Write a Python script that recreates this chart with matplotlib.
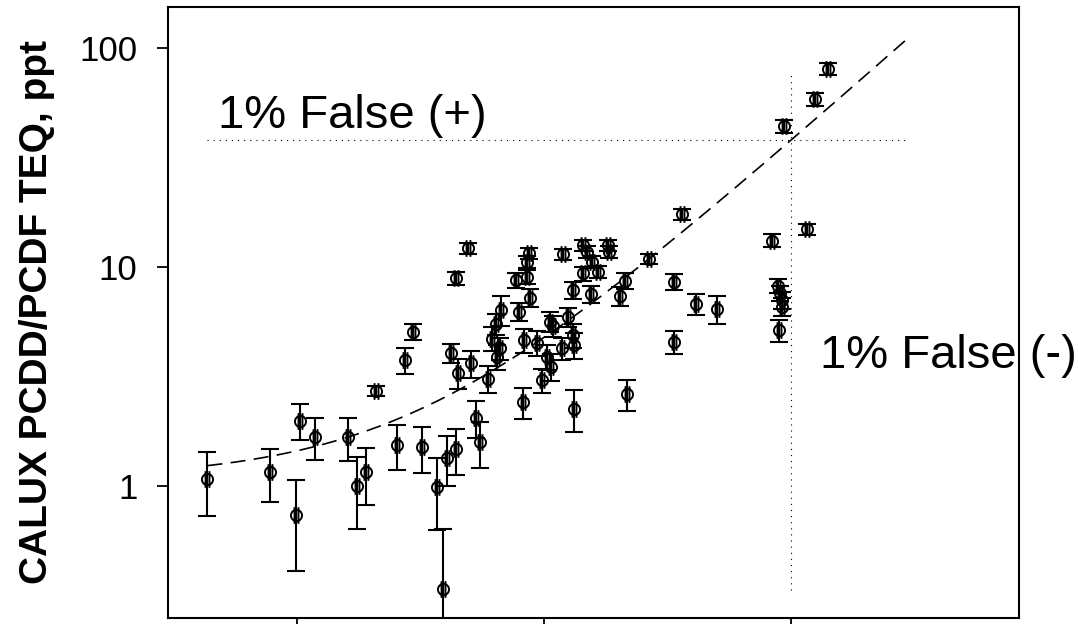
import numpy as np
import matplotlib.pyplot as plt
from matplotlib.path import Path
from matplotlib.ticker import FixedLocator, NullLocator, NullFormatter

plt.rcParams['font.family'] = ['Liberation Sans', 'DejaVu Sans']

# HRGC/HRMS TEQ (x), CALUX TEQ (y) and the CALUX standard deviation
hrms_teq = [0.0435, 0.0782, 0.099, 0.1035, 0.119, 0.161, 0.175, 0.190, 0.255, 0.320,
            0.368, 0.389, 0.404, 0.440, 0.531, 0.551, 0.820, 1.32, 2.18, 0.979,
            0.491, 0.443, 0.296, 0.274, 0.210, 0.420, 0.450, 0.505,
            0.869, 0.851, 0.855, 0.768, 0.878, 0.794, 0.668, 0.639, 0.614, 0.663,
            0.647, 0.595, 0.832, 0.939, 1.057, 1.085, 1.026, 1.067, 1.18, 1.254,
            1.315, 1.32, 1.306, 1.19, 1.44, 1.49, 1.56, 1.44, 1.66, 1.82,
            1.84, 1.55, 2.13, 2.03,
            3.64, 2.67, 3.36, 4.12, 5.03, 3.36, 8.35,
            8.88, 9.03, 9.17, 9.17, 8.95, 11.6,
            9.37, 12.5, 14.1]
calux_teq = [1.08, 1.16, 0.74, 1.99, 1.68, 1.67, 1.00, 1.16, 1.54, 1.51,
             0.99, 0.34, 1.35, 1.48, 2.05, 1.59, 2.42, 2.26, 2.63, 3.05,
             12.17, 8.88, 5.07, 3.76, 2.72, 4.06, 3.29, 3.63,
             11.55, 10.57, 9.03, 8.72, 7.24, 6.25, 6.36, 5.49, 4.72, 4.25,
             3.89, 3.10, 4.64, 4.51, 5.63, 5.38, 3.89, 3.51, 4.25, 5.93,
             4.89, 4.40, 7.85, 11.43, 12.6, 11.75, 10.57, 9.36, 9.52, 12.6,
             11.75, 7.53, 8.66, 7.37,
             17.46, 10.88, 8.57, 6.78, 6.43, 4.56, 13.19,
             8.19, 7.63, 7.07, 6.59, 5.16, 14.86,
             44.05, 58.3, 80.2]
calux_sd = [0.35, 0.31, 0.33, 0.37, 0.37, 0.37, 0.36, 0.34, 0.36, 0.36,
            0.36, 0.30, 0.35, 0.35, 0.39, 0.38, 0.40, 0.50, 0.42, 0.39,
            0.65, 0.60, 0.40, 0.50, 0.15, 0.40, 0.50, 0.50,
            0.70, 0.70, 0.70, 0.70, 0.70, 0.60, 1.00, 0.60, 0.60, 0.50,
            0.50, 0.45, 0.60, 0.60, 0.60, 0.60, 0.50, 0.50, 0.50, 0.60,
            0.60, 0.60, 0.70, 0.70, 0.70, 0.70, 0.70, 0.70, 0.60, 0.70,
            0.70, 0.70, 0.70, 0.70,
            1.00, 0.60, 0.75, 0.75, 0.95, 0.55, 0.90,
            0.60, 0.60, 0.60, 0.60, 0.60, 0.80,
            3.0, 4.0, 5.0]

# linear regression CALUX = a + b * HRMS
fit_intercept = 1.08
fit_slope = 3.69
fit_range = [0.0435, 30.0]

# 1 % false positive / false negative cut-offs
cutoff_hrms = 10.0
cutoff_calux = 38.0
cutoff_calux_span = [0.335, 77.0]

y_ticks = [1, 10, 100]
y_tick_labels = ['1', '10', '100']
x_ticks = [0.1, 1, 10]


def phi_marker():
    # open circle crossed by two short vertical strokes
    circle = Path.unit_circle()
    bars = Path([(-0.35, -1.5), (-0.35, 1.5), (0.35, -1.5), (0.35, 1.5)],
                [Path.MOVETO, Path.LINETO, Path.MOVETO, Path.LINETO])
    return Path.make_compound_path(circle, bars)


fig = plt.figure(figsize=(10.78, 6.24), dpi=100)
ax = fig.add_axes([0.1558, 0.0096, 0.7895, 0.9792])
ax.set_xscale('log')
ax.set_yscale('log')
ax.set_xlim(0.0301, 83.8)
ax.set_ylim(0.25, 154)

ax.errorbar(hrms_teq, calux_teq, yerr=calux_sd, fmt='none', ecolor='black',
            elinewidth=1.5, capsize=6.2, capthick=1.5, zorder=3)
ax.plot(hrms_teq, calux_teq, linestyle='none', marker=phi_marker(), ms=12,
        mfc='none', mec='black', mew=1.4, zorder=4)

xf = np.logspace(np.log10(fit_range[0]), np.log10(fit_range[1]), 200)
ax.plot(xf, fit_intercept + fit_slope * xf, color='black', lw=1.2,
        dashes=(9, 5), zorder=2)

ax.plot(fit_range, [cutoff_calux, cutoff_calux], color='black', lw=0.8,
        linestyle=(0, (1, 4.5)), zorder=1)
ax.plot([cutoff_hrms, cutoff_hrms], cutoff_calux_span, color='black', lw=0.8,
        linestyle=(0, (1, 4.5)), zorder=1)

ax.text(0.0479, 43.1, '1% False (+)', fontsize=34, va='baseline', ha='left')
ax.text(13.1, 3.46, '1% False (-)', fontsize=34, va='baseline', ha='left',
        clip_on=False)

ax.yaxis.set_major_locator(FixedLocator(y_ticks))
ax.set_yticklabels(y_tick_labels)
ax.yaxis.set_minor_locator(NullLocator())
ax.xaxis.set_major_locator(FixedLocator(x_ticks))
ax.xaxis.set_minor_locator(NullLocator())
ax.xaxis.set_major_formatter(NullFormatter())
ax.tick_params(axis='y', labelsize=25, length=8, width=1.3, pad=14)
ax.tick_params(axis='x', length=8, width=1.3, labelbottom=False)
for side in ax.spines.values():
    side.set_linewidth(1.5)

ax.set_ylabel('CALUX PCDD/PCDF TEQ, ppt', fontsize=28, fontweight='bold')
ax.yaxis.set_label_coords(-0.133, 0.5)

fig.savefig('out.png', dpi=100)
